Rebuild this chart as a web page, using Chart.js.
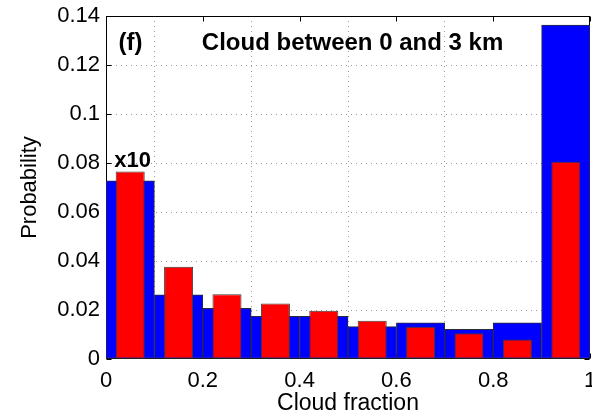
<!DOCTYPE html>
<html><head><meta charset="utf-8">
<script src="https://cdn.jsdelivr.net/npm/chart.js@4/dist/chart.umd.min.js"></script>
<style>html,body{margin:0;padding:0;background:#fff;overflow:hidden}</style>
</head><body>
<canvas id="c" width="592" height="418"></canvas>
<script>
// ---- data ----
const binCenters = [0.05, 0.15, 0.25, 0.35, 0.45, 0.55, 0.65, 0.75, 0.85, 0.95];
const blueProb = [0.0727, 0.0262, 0.0207, 0.0174, 0.0174, 0.0132, 0.0148, 0.0121, 0.0148, 0.1363];
const redProb  = [0.0765, 0.0377, 0.0264, 0.0227, 0.0197, 0.0156, 0.0132, 0.0105, 0.0080, 0.0805];
const xTickLabels = ['0', '0.2', '0.4', '0.6', '0.8', '1'];
const yTickLabels = ['0', '0.02', '0.04', '0.06', '0.08', '0.1', '0.12', '0.14'];
const panelLabel = '(f)';
const titleText = 'Cloud between 0 and 3 km';
const scaleNote = 'x10';
const xTitle = 'Cloud fraction';
const yTitle = 'Probability';

// ---- annotation placement (data coordinates) ----
const notes = [
  {text: panelLabel, x: 0.026, y: 0.126, size: 24},
  {text: titleText, x: 0.198, y: 0.126, size: 24},
  {text: scaleNote, x: 0.017, y: 0.0783, size: 22}
];

const FONT = "'Liberation Sans', Arial, Helvetica, sans-serif";

const boxAndTicks = {
  id: 'boxAndTicks',
  beforeDatasetsDraw(chart) {
    const {ctx, chartArea: a, scales: {x, y}} = chart;
    ctx.save();
    ctx.strokeStyle = '#000';
    ctx.lineWidth = 1;
    const L = Math.round(a.left) + 0.5, R = Math.round(a.right) - 0.5;
    const T = Math.round(a.top) + 0.5, B = Math.round(a.bottom) - 0.5;
    ctx.strokeRect(L, T, R - L, B - T);
    ctx.beginPath();
    y.ticks.forEach(t => {
      const p = Math.round(y.getPixelForValue(t.value)) + 0.5;
      ctx.moveTo(L, p); ctx.lineTo(L + 5, p);
      ctx.moveTo(R, p); ctx.lineTo(R - 5, p);
    });
    x.ticks.forEach(t => {
      const p = Math.round(x.getPixelForValue(t.value)) + 0.5;
      ctx.moveTo(p, T); ctx.lineTo(p, T + 5);
      ctx.moveTo(p, B); ctx.lineTo(p, B - 5);
    });
    ctx.stroke();
    ctx.restore();
  },
  afterDatasetsDraw(chart) {
    const {ctx, scales: {x, y}} = chart;
    ctx.save();
    ctx.fillStyle = '#000';
    ctx.textBaseline = 'alphabetic';
    ctx.textAlign = 'left';
    notes.forEach(n => {
      ctx.font = 'bold ' + n.size + 'px ' + FONT;
      ctx.fillText(n.text, x.getPixelForValue(n.x), y.getPixelForValue(n.y));
    });
    ctx.restore();
  }
};

new Chart(document.getElementById('c'), {
  type: 'bar',
  data: {
    datasets: [
      {
        label: 'red',
        data: binCenters.map((c, i) => ({x: c, y: redProb[i]})),
        backgroundColor: '#ff0000',
        borderColor: '#3c3c3c',
        borderWidth: 1,
        borderSkipped: false,
        barPercentage: 0.6,
        categoryPercentage: 1,
        grouped: false,
        order: 0
      },
      {
        label: 'blue',
        data: binCenters.map((c, i) => ({x: c, y: blueProb[i]})),
        backgroundColor: '#0000ff',
        borderColor: '#2a2a3a',
        borderWidth: 1,
        borderSkipped: false,
        barPercentage: 1,
        categoryPercentage: 1,
        grouped: false,
        order: 1
      }
    ]
  },
  options: {
    responsive: false,
    animation: false,
    devicePixelRatio: 1,
    layout: {padding: {top: 16, right: 2, left: 0, bottom: 0}},
    plugins: {legend: {display: false}, tooltip: {enabled: false}},
    scales: {
      x: {
        type: 'linear',
        min: 0, max: 1,
        offset: false,
        grid: {color: ctx => (ctx.tick && (ctx.tick.value <= 0 || ctx.tick.value >= 1)) ? 'rgba(0,0,0,0)' : '#9a9a9a', drawTicks: false, lineWidth: 1},
        border: {display: false, dash: [1, 4]},
        ticks: {
          stepSize: 0.2,
          padding: 9,
          color: '#000',
          font: {family: FONT, size: 22},
          maxRotation: 0,
          callback: (v, i) => xTickLabels[i]
        },
        title: {display: true, text: xTitle, color: '#000', font: {family: FONT, size: 23}, padding: {top: 0, bottom: 1}},
        afterFit(s) { s.height = 59; s.paddingLeft = 0; s.paddingRight = 0; }
      },
      y: {
        min: 0, max: 0.14,
        grid: {color: ctx => (ctx.tick && (ctx.tick.value <= 0 || ctx.tick.value >= 0.1399)) ? 'rgba(0,0,0,0)' : '#9a9a9a', drawTicks: false, lineWidth: 1},
        border: {display: false, dash: [1, 4]},
        ticks: {
          stepSize: 0.02,
          padding: 6,
          color: '#000',
          font: {family: FONT, size: 22},
          callback: (v, i) => yTickLabels[i]
        },
        title: {display: true, text: yTitle, color: '#000', font: {family: FONT, size: 22}, padding: {top: 17, bottom: 0}},
        afterFit(s) { s.width = 106; s.paddingTop = 0; s.paddingBottom = 0; }
      }
    }
  },
  plugins: [boxAndTicks]
});
</script>
</body></html>
